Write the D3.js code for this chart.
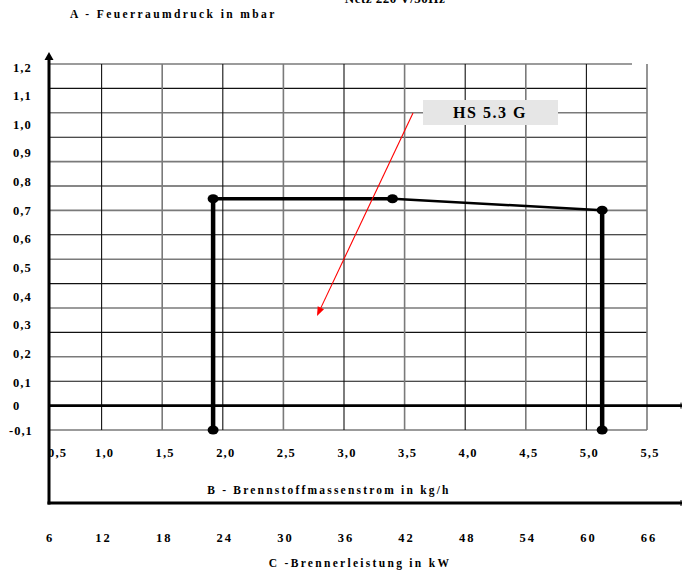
<!DOCTYPE html>
<html>
<head>
<meta charset="utf-8">
<script src="https://cdn.jsdelivr.net/npm/d3@7"></script>
<style>
  html, body { margin: 0; padding: 0; background: #fff; }
  svg { display: block; }
  text { font-family: "Liberation Serif", "DejaVu Serif", serif; font-weight: bold; fill: #000; }
</style>
</head>
<body>
<svg id="chart" width="682" height="571"></svg>
<script>
// ---- data ----
const yTickLabels = ["1,2","1,1","1,0","0,9","0,8","0,7","0,6","0,5","0,4","0,3","0,2","0,1","0","-0,1"];
const yTickValues = [1.2,1.1,1.0,0.9,0.8,0.7,0.6,0.5,0.4,0.3,0.2,0.1,0,-0.1];
const xTickValues = [0.5,1.0,1.5,2.0,2.5,3.0,3.5,4.0,4.5,5.0,5.5];
const xTickLabels = ["0,5","1,0","1,5","2,0","2,5","3,0","3,5","4,0","4,5","5,0","5,5"];
const kwTickValues = [6,12,18,24,30,36,42,48,54,60,66];
// working field of the burner: fuel mass flow (kg/h) vs. combustion chamber pressure (mbar)
const fieldX = [1.92, 1.92, 3.40, 5.13, 5.13];
const fieldY = [-0.1, 0.74, 0.74, 0.70, -0.1];
const modelName = "HS 5.3 G";
const titleA = "A - Feuerraumdruck in mbar";
const titleB = "B - Brennstoffmassenstrom in kg/h";
const titleC = "C -Brennerleistung in kW";
const titleTop = "Netz 220 V/50Hz";

const svg = d3.select("#chart");

// scales
const x = d3.scaleLinear().domain([0.5, 5.5]).range([41, 647]);
const y = d3.scaleLinear().domain([-0.1, 0, 0.1, 1.2]).range([430, 405, 382, 67]);
const yGrid = d3.scaleLinear().domain([0, 15]).range([430, 64]);
const axisX = 49;

// horizontal grid
const rows = d3.range(16).filter(i => i !== 1);
svg.append("g").selectAll("line").data(rows).join("line")
  .attr("x1", axisX).attr("x2", i => i === 15 ? 632 : x(5.5))
  .attr("y1", i => yGrid(i)).attr("y2", i => yGrid(i))
  .attr("stroke", i => (i % 2 === 1 || i === 0) ? "#7a7a7a" : "#111")
  .attr("stroke-width", i => (i % 2 === 1 || i === 0) ? 1.6 : 1.1);

// vertical grid
const cols = xTickValues.slice(1);
svg.append("g").selectAll("line").data(cols).join("line")
  .attr("x1", d => x(d)).attr("x2", d => x(d))
  .attr("y1", yGrid(15)).attr("y2", yGrid(0))
  .attr("stroke", (d, i) => i % 2 === 0 ? "#111" : "#7a7a7a")
  .attr("stroke-width", (d, i) => i % 2 === 0 ? 1.1 : 1.6);

// zero line
svg.append("line").attr("x1", axisX).attr("x2", 682)
  .attr("y1", yGrid(1)).attr("y2", yGrid(1))
  .attr("stroke", "#000").attr("stroke-width", 2.6);
svg.append("line").attr("x1", 681).attr("x2", 681)
  .attr("y1", yGrid(1) - 3).attr("y2", yGrid(1) + 3).attr("stroke", "#000").attr("stroke-width", 1);

// bottom axis line
svg.append("line").attr("x1", axisX - 1.5).attr("x2", 682)
  .attr("y1", 503).attr("y2", 503).attr("stroke", "#000").attr("stroke-width", 3);
svg.append("line").attr("x1", 681).attr("x2", 681)
  .attr("y1", 500).attr("y2", 506).attr("stroke", "#000").attr("stroke-width", 1);

// y axis with arrow
svg.append("line").attr("x1", axisX).attr("x2", axisX)
  .attr("y1", 57).attr("y2", 504.5).attr("stroke", "#000").attr("stroke-width", 3);
svg.append("path").attr("d", `M${axisX},52 L${axisX - 4.5},60 L${axisX + 4.5},60 Z`).attr("fill", "#000");

// y tick labels
svg.append("g").selectAll("text").data(yTickValues).join("text")
  .attr("x", (d, i) => yTickLabels[i].startsWith("-") ? 9 : 13)
  .attr("y", d => y(d) + 4.5)
  .attr("font-size", 12.5).attr("letter-spacing", 1)
  .text((d, i) => yTickLabels[i]);

// x tick labels (B)
svg.append("g").selectAll("text").data(xTickValues).join("text")
  .attr("x", (d, i) => i === 0 ? 48 : x(d) + 3)
  .attr("y", 457)
  .attr("text-anchor", (d, i) => i === 0 ? "start" : "middle")
  .attr("font-size", 12.5).attr("letter-spacing", 1.2)
  .text((d, i) => xTickLabels[i]);

// kW tick labels (C)
svg.append("g").selectAll("text").data(kwTickValues).join("text")
  .attr("x", (d, i) => i === 0 ? 50 : x(d / 12) + 2)
  .attr("y", 542)
  .attr("text-anchor", "middle")
  .attr("font-size", 12.5).attr("letter-spacing", 2)
  .text(d => d);

// titles
svg.append("text").attr("x", 70).attr("y", 18).attr("font-size", 11.5).attr("letter-spacing", 2.4).text(titleA);
svg.append("text").attr("x", 329).attr("y", 494).attr("text-anchor", "middle").attr("font-size", 11.5).attr("letter-spacing", 2.2).text(titleB);
svg.append("text").attr("x", 360).attr("y", 567).attr("text-anchor", "middle").attr("font-size", 11.5).attr("letter-spacing", 2.3).text(titleC);
svg.append("text").attr("x", 395).attr("y", 3).attr("text-anchor", "middle").attr("font-size", 13).attr("letter-spacing", 0.5).text(titleTop);

// data: working field
const pts = fieldX.map((v, i) => [x(v), y(fieldY[i])]);
const segW = [4.5, 3.5, 2.5, 4.5];
for (let i = 0; i < pts.length - 1; i++) {
  svg.append("line")
    .attr("x1", pts[i][0]).attr("y1", pts[i][1])
    .attr("x2", pts[i + 1][0]).attr("y2", pts[i + 1][1])
    .attr("stroke", "#000").attr("stroke-width", segW[i]).attr("stroke-linecap", "butt");
}
svg.append("g").selectAll("ellipse").data(pts).join("ellipse")
  .attr("cx", d => d[0]).attr("cy", d => d[1]).attr("rx", 5.5).attr("ry", 4.5).attr("fill", "#000");

// label box
svg.append("rect").attr("x", 423).attr("y", 100).attr("width", 135).attr("height", 25).attr("fill", "#e6e6e6");
svg.append("text").attr("x", 490).attr("y", 118).attr("text-anchor", "middle")
  .attr("font-size", 16).attr("letter-spacing", 1.5).text(modelName);

// red arrow
const a0 = [413, 113], a1 = [317, 316];
const ang = Math.atan2(a1[1] - a0[1], a1[0] - a0[0]);
const hl = 9, hw = 3.5;
const bx = a1[0] - hl * Math.cos(ang), by = a1[1] - hl * Math.sin(ang);
svg.append("line").attr("x1", a0[0]).attr("y1", a0[1]).attr("x2", bx).attr("y2", by)
  .attr("stroke", "#ff0000").attr("stroke-width", 1.1);
svg.append("path")
  .attr("d", `M${a1[0]},${a1[1]} L${bx + hw * Math.sin(ang)},${by - hw * Math.cos(ang)} L${bx - hw * Math.sin(ang)},${by + hw * Math.cos(ang)} Z`)
  .attr("fill", "#ff0000");
</script>
</body>
</html>
